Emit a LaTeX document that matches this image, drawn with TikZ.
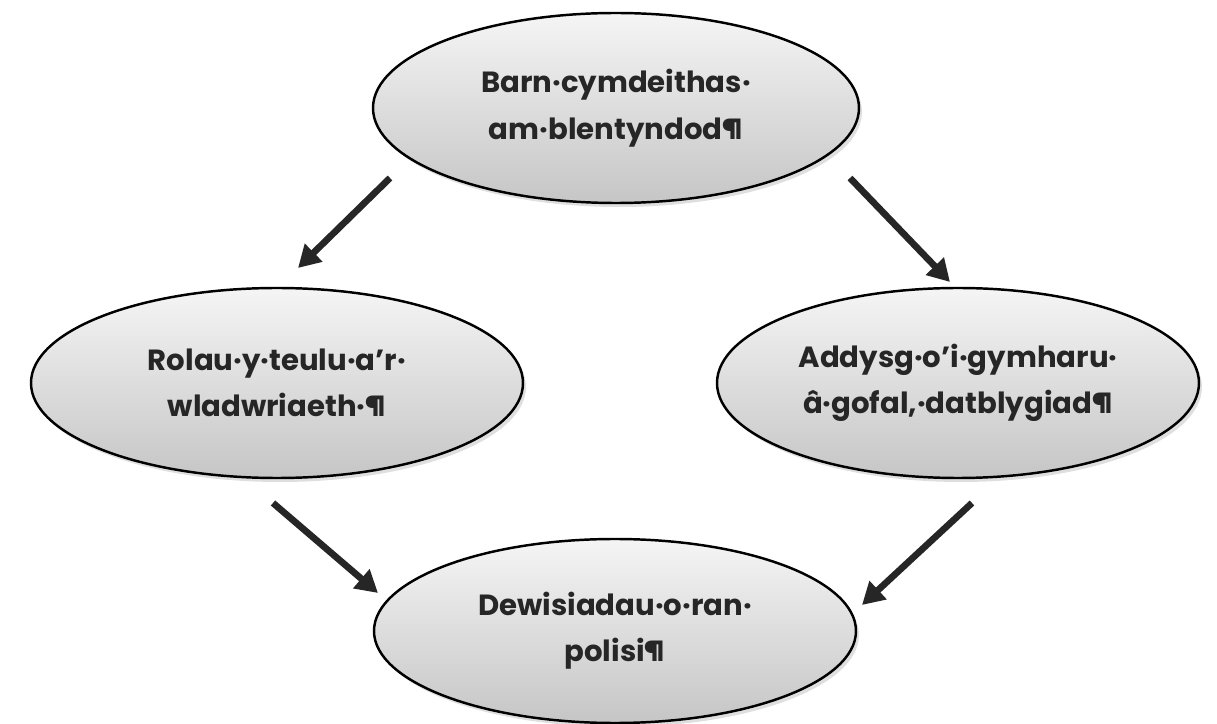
\documentclass[tikz,border=0pt]{standalone}
\usepackage{fontspec}
\setmainfont{Poppins}
\usepackage{xcolor}
\usepackage{tikz}
\usetikzlibrary{shapes.geometric, arrows.meta, shadows}

\begin{document}
\begin{tikzpicture}[
        bubble/.style={draw=black, line width=0.7pt, ellipse, inner sep=0pt,
            minimum width=4.86cm, minimum height=1.9cm, align=center,
            top color=gray!8, bottom color=gray!45,
            drop shadow={opacity=0.25, shadow xshift=0.03cm, shadow yshift=-0.04cm},
            font=\fontsize{8.3}{13.2}\selectfont\bfseries, text=black!85},
        arrow/.style={line width=1.9pt, black!85, -{Triangle[length=0.22cm, width=0.24cm]}}]
        \useasboundingbox (0,0) rectangle (12.17,7.24);

        % Nodes
        \node[bubble] (barn) at (6.16,6.16) {Barn·cymdeithas·\\am·blentyndod¶};
        \node[bubble, minimum width=4.92cm] (rolau) at (2.77,3.41) {Rolau·y·teulu·a’r·\\wladwriaeth·¶};
        \node[bubble, minimum width=4.82cm] (addysg) at (9.58,3.41) {Addysg·o’i·gymharu·\\â·gofal,·datblygiad¶};
        \node[bubble, minimum width=4.82cm, minimum height=1.84cm] (dewis) at (6.15,0.93) {Dewisiadau·o·ran·\\polisi¶};

        % Arrow ends
        \coordinate (a1s) at (3.90,5.46);
        \coordinate (a1e) at (2.98,4.56);
        \coordinate (a2s) at (8.50,5.46);
        \coordinate (a2e) at (9.50,4.42);
        \coordinate (a3s) at (2.73,2.21);
        \coordinate (a3e) at (3.78,1.31);
        \coordinate (a4s) at (9.72,2.21);
        \coordinate (a4e) at (8.62,1.19);

        % Arrows
        \draw[arrow] (a1s) -- (a1e);
        \draw[arrow] (a2s) -- (a2e);
        \draw[arrow] (a3s) -- (a3e);
        \draw[arrow] (a4s) -- (a4e);
    \end{tikzpicture}
\end{document}
